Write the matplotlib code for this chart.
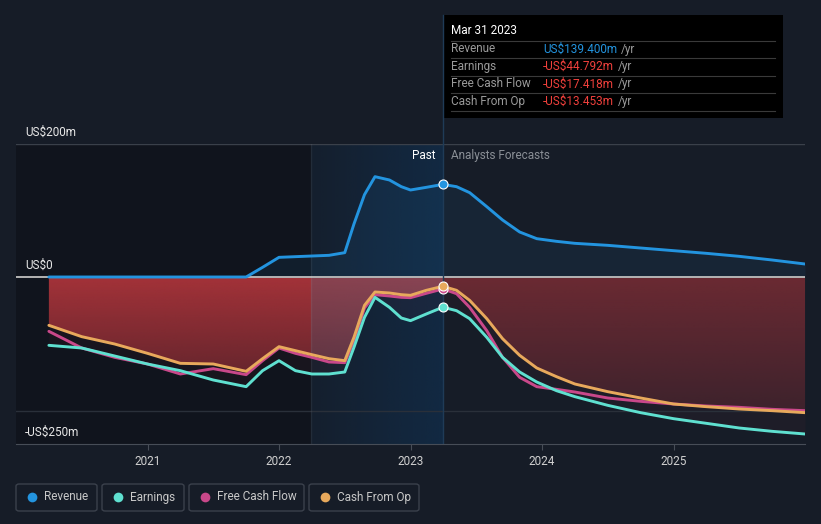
import numpy as np
import matplotlib.pyplot as plt
from matplotlib.patches import Polygon, Rectangle, FancyBboxPatch
from matplotlib.lines import Line2D

plt.rcParams['font.family'] = ['Roboto', 'DejaVu Sans']

# dates (fractional years)
dates = [2020.25, 2020.5, 2020.75, 2021.0, 2021.25, 2021.5, 2021.75, 2021.875, 2022.0, 2022.125,
         2022.25, 2022.38, 2022.5, 2022.57, 2022.65, 2022.73, 2022.84, 2022.93, 2023.0, 2023.12,
         2023.246, 2023.35, 2023.45, 2023.58, 2023.70, 2023.83, 2023.96, 2024.11, 2024.25, 2024.5,
         2024.75, 2025.0, 2025.25, 2025.5, 2025.75, 2026.0]
# US$m
revenue = [0.5, 0.5, 0.5, 0.5, 0.5, 0.5, 0.5, 15, 30, 31,
           32, 33, 37, 80, 124, 151, 146, 136, 131, 135,
           139.4, 136, 127, 106, 86, 68, 58, 54, 51, 48,
           44, 40, 36, 31.5, 26, 20]
earnings = [-102, -106, -118, -130, -140, -154, -164, -140, -125, -140,
            -145, -145, -142, -105, -60, -30, -45, -61, -65, -55,
            -44.792, -50, -62, -90, -120, -142, -157, -170, -179, -192,
            -203, -212, -219, -226, -231, -235]
fcf = [-81, -106, -120, -130, -145, -137, -146, -125, -106, -114,
       -120, -127, -128, -95, -46, -26, -28, -30, -30.5, -24,
       -17.418, -24.5, -45, -80, -120, -150, -164, -168, -172, -181,
       -186, -190, -193, -195, -198, -200]
cfo = [-72, -89, -100, -114, -129, -130, -141, -122, -104, -110,
       -116, -122, -125, -90, -42, -22, -23.5, -26, -27, -19.5,
       -13.453, -19.5, -34.6, -62, -92, -117, -136, -149, -160, -171.5,
       -181, -190, -194, -197.5, -200, -203]

now = 2023.246
band_start = 2022.24

BG = '#161c27'
C_REV = '#2394df'
C_EARN = '#5fe0d0'
C_FCF = '#c9488a'
C_CFO = '#e8a95c'

W, H = 821, 524
def fx(px): return px / W
def fy(py): return 1 - py / H

fig = plt.figure(figsize=(8.21, 5.24), dpi=100, facecolor=BG)
ax = fig.add_axes([fx(16), fy(444), 789 / W, 300 / H])
ax.set_facecolor(BG)
XL, YL = (2020.0, 2026.0), (-250, 200)

# background regions
ax.axvspan(XL[0], band_start, color='black', alpha=0.25, lw=0, zorder=0)
bg = np.zeros((1, 256, 4))
bg[..., :3] = np.array([14, 55, 95]) / 255
bg[0, :, 3] = np.linspace(0.12, 0.5, 256)
ax.imshow(bg, extent=[band_start, now, YL[0], YL[1]], aspect='auto', zorder=0.5)

# revenue fill
ax.fill_between(dates, 0, revenue, color=C_REV, alpha=0.08, lw=0, zorder=1)

# red gradient fill under cash from op
verts = [(dates[0], 0)] + list(zip(dates, cfo)) + [(dates[-1], 0)]
poly = Polygon(verts, closed=True, facecolor='none', edgecolor='none')
ax.add_patch(poly)
vals = np.linspace(0, -250, 256)
for x0, x1, rgb, a0, slope in [(XL[0], band_start, (190, 56, 62), 0.84, 0.0025),
                               (band_start, now, (165, 75, 88), 0.80, 0.0023),
                               (now, XL[1], (190, 56, 62), 0.48, 0.0014)]:
    img = np.zeros((256, 1, 4))
    img[..., :3] = np.array(rgb) / 255
    img[:, 0, 3] = np.clip(a0 - slope * np.abs(vals), 0, 1)
    im = ax.imshow(img, extent=[x0, x1, -250, 0], aspect='auto', origin='upper', zorder=1.5)
    im.set_clip_path(poly)
ax.fill_between(dates, 0, earnings, color=(190 / 255, 56 / 255, 62 / 255), alpha=0.05, lw=0, zorder=1.4)

# grid lines
ax.axhline(200, color='#3a404a', lw=1, zorder=2)
ax.axhline(-200, color='#2a303a', lw=1, zorder=2)
ax.axhline(0, color='#b4b4b4', lw=1.4, zorder=2)
ax.axvline(band_start, color='white', alpha=0.06, lw=1, zorder=2)
ax.axvline(now, color='#1f3b57', lw=1, zorder=2)

# series
kw = dict(lw=2.1, solid_capstyle='round', solid_joinstyle='round')
ax.plot(dates, fcf, color=C_FCF, zorder=3, **kw)
ax.plot(dates, cfo, color=C_CFO, zorder=3.1, **kw)
ax.plot(dates, earnings, color=C_EARN, zorder=3.2, **kw)
ax.plot(dates, revenue, color=C_REV, zorder=3.3, **kw)

i = dates.index(now)
for s, c in [(fcf, C_FCF), (cfo, C_CFO), (earnings, C_EARN), (revenue, C_REV)]:
    ax.plot(now, s[i], 'o', ms=6.5, mfc=c, mec='white', mew=0.8, zorder=5)

ax.set_xlim(XL)
ax.set_ylim(YL)
for s in ['top', 'right', 'left']:
    ax.spines[s].set_visible(False)
ax.spines['bottom'].set_color('#474d57')
ax.set_yticks([])
ax.set_xticks([2021, 2022, 2023, 2024, 2025])
ax.set_xticklabels(['2021', '2022', '2023', '2024', '2025'])
ax.tick_params(axis='x', colors='#474d57', length=4, labelcolor='#d0d0d0', labelsize=8.5, pad=4)

for v, lab in [(200, 'US$200m'), (0, 'US$0'), (-250, '-US$250m')]:
    ax.annotate(lab, xy=(0, v), xycoords=('axes fraction', 'data'), xytext=(9, 12),
                textcoords='offset pixels', va='center', ha='left', color='#e8e8e8',
                fontsize=8.5, annotation_clip=False)

fig.text(fx(435), fy(156), 'Past', ha='right', va='center', color='white', fontsize=8.5)
fig.text(fx(451), fy(156), 'Analysts Forecasts', ha='left', va='center', color='#8a8f96', fontsize=8.5)

# tooltip
fig.add_artist(Line2D([fx(443), fx(443)], [fy(15), fy(144)], color='#1f3b57', lw=1))
fig.add_artist(Rectangle((fx(443), fy(118)), fx(783) - fx(443), fy(15) - fy(118),
                         transform=fig.transFigure, facecolor='black', edgecolor='none'))
fig.text(fx(451), fy(31), 'Mar 31 2023', color='white', fontsize=8.5, va='center')
rows = [('Revenue', 'US$139.400m', C_REV),
        ('Earnings', '-US$44.792m', '#f0403c'),
        ('Free Cash Flow', '-US$17.418m', '#f0403c'),
        ('Cash From Op', '-US$13.453m', '#f0403c')]
for k, (lab, val, c) in enumerate(rows):
    yy = 49 + k * 17.5
    fig.add_artist(Line2D([fx(451), fx(775)], [fy(yy - 8.5), fy(yy - 8.5)], color='#3a3a3a', lw=0.8))
    fig.text(fx(451), fy(yy), lab, color='#9a9a9a', fontsize=8.5, va='center')
    t = fig.text(fx(543), fy(yy), val, color=c, fontsize=8.5, va='center')
    fig.canvas.draw()
    bb = t.get_window_extent()
    fig.text(bb.x1 / W + fx(4), fy(yy), '/yr', color='#9a9a9a', fontsize=8.5, va='center')
fig.add_artist(Line2D([fx(451), fx(775)], [fy(111), fy(111)], color='#3a3a3a', lw=0.8))

# legend
legend = [('Revenue', C_REV, 16, 97), ('Earnings', C_EARN, 102, 184),
          ('Free Cash Flow', C_FCF, 189, 304), ('Cash From Op', C_CFO, 309, 419)]
for lab, c, x0, x1 in legend:
    fig.add_artist(FancyBboxPatch((fx(x0), fy(511)), fx(x1) - fx(x0), fy(484) - fy(511),
                                  boxstyle='round,pad=0,rounding_size=0.004',
                                  transform=fig.transFigure, facecolor='none',
                                  edgecolor='#3b414c', lw=1))
    fig.add_artist(Line2D([fx(x0 + 16)], [fy(497)], marker='o', ms=7, color=c, mew=0))
    fig.text(fx(x0 + 28), fy(497), lab, color='#c8c8c8', fontsize=8.5, va='center')

fig.savefig('out.png', dpi=100, facecolor=BG)
